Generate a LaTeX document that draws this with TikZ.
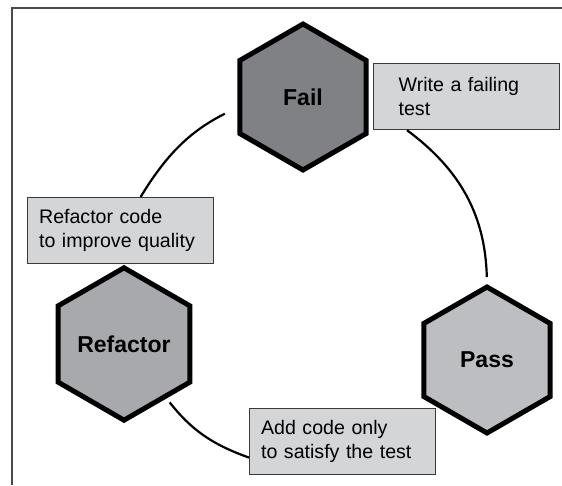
\documentclass[tikz,border=0pt]{standalone}
\usepackage{fontspec}
\setmainfont{Liberation Sans}
\definecolor{hexFail}{HTML}{808185}
\definecolor{hexRefactor}{HTML}{A8A9AC}
\definecolor{hexPass}{HTML}{BDBEC1}
\definecolor{noteFill}{HTML}{D4D5D7}
\definecolor{noteEdge}{HTML}{3A3A3A}
\definecolor{frameGray}{HTML}{4A4A4A}
\usetikzlibrary{shapes.geometric, positioning}
\tikzset{
  hexNode/.style={regular polygon, regular polygon sides=6, regular polygon rotate=30,
    minimum size=146pt, inner sep=0pt, draw=black, line width=5pt,
    font=\fontsize{23}{26}\selectfont\bfseries},
  noteBox/.style={draw=noteEdge, fill=noteFill, line width=1.2pt, anchor=north west,
    minimum height=66pt, text width=163pt, inner xsep=11.5pt, align=left,
    font=\fontsize{19.6}{24}\selectfont},
  cycleArc/.style={line width=2.2pt}
}

\begin{document}
\begin{tikzpicture}[x=1pt, y=1pt]
  \useasboundingbox (0,0) rectangle (562,485);
  \draw[frameGray, line width=1.2pt] (12,0) |- (562,477);

  \node[hexNode, fill=hexFail] (fail) at (303,388) {Fail};
  \node[hexNode, fill=hexPass] (pass) at (487,125) {Pass};
  \node[hexNode, fill=hexRefactor] (refactor) at (124,141) {Refactor};

  \node[noteBox, text width=136pt, inner xsep=25pt] (writeNote) at (373,422) {Write a failing\\test};
  \node[noteBox] (addNote) at (249,77) {Add code only\\to satisfy the test};
  \node[noteBox] (refactorNote) at (27,288) {Refactor code\\to improve quality};

  \draw[cycleArc, shorten >=7pt] ([xshift=34pt]writeNote.south west) to[bend left=26] (pass.north);
  \draw[cycleArc, shorten <=5pt] (refactor.-52) to[bend right=16] ([yshift=-16pt]addNote.west);
  \draw[cycleArc, shorten >=14pt] ([xshift=20pt]refactorNote.north) to[bend left=16] (fail.189);
\end{tikzpicture}
\end{document}
